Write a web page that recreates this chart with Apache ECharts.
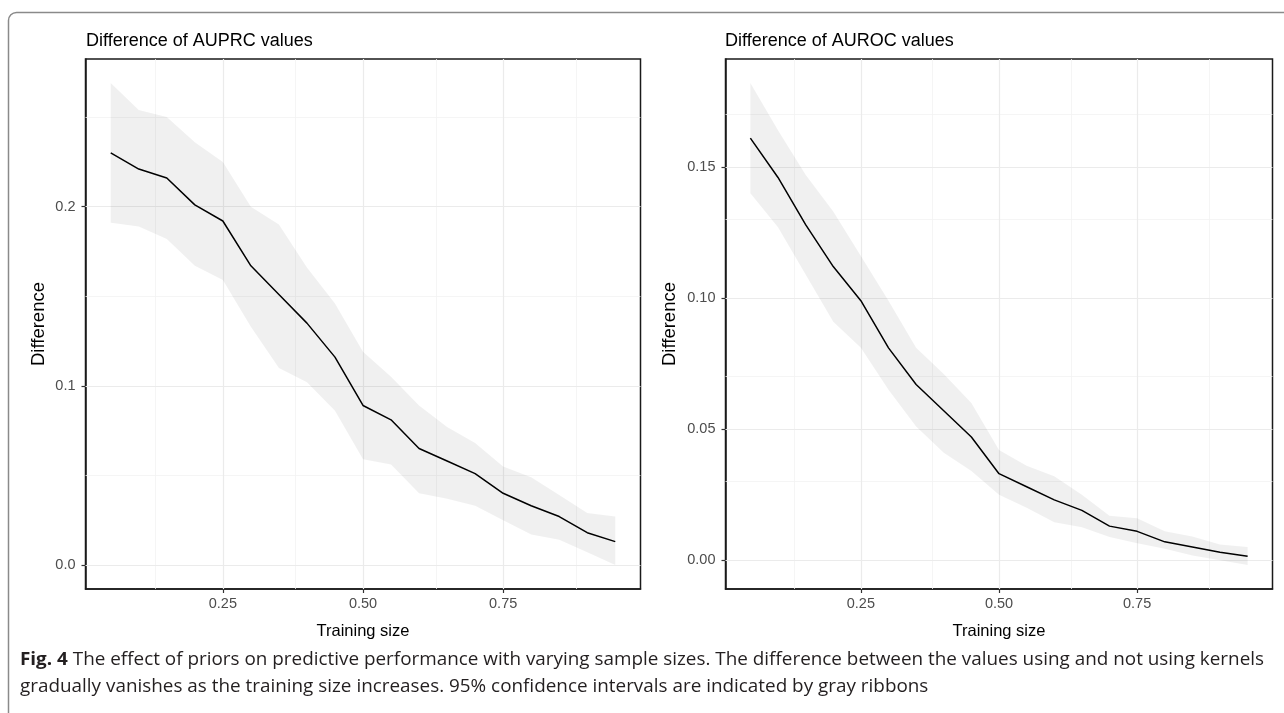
<!DOCTYPE html>
<html>
<head>
<meta charset="utf-8">
<script src="https://cdn.jsdelivr.net/npm/echarts@6/dist/echarts.min.js"></script>
<style>
  html, body { margin: 0; padding: 0; background: #fff; }
  #chart { width: 1284px; height: 713px; }
</style>
</head>
<body>
<div id="chart"></div>
<script>
// training size on x, same for both panels
const trainSize = [0.05, 0.10, 0.15, 0.20, 0.25, 0.30, 0.35, 0.40, 0.45, 0.50,
                   0.55, 0.60, 0.65, 0.70, 0.75, 0.80, 0.85, 0.90, 0.95];

// left panel: AUPRC difference + 95% CI
const auprcDiff  = [0.230, 0.221, 0.216, 0.201, 0.192, 0.167, 0.151, 0.135, 0.116, 0.089,
                    0.081, 0.065, 0.058, 0.051, 0.040, 0.033, 0.027, 0.018, 0.013];
const auprcUpper = [0.269, 0.254, 0.250, 0.236, 0.225, 0.200, 0.190, 0.166, 0.146, 0.119,
                    0.105, 0.089, 0.077, 0.068, 0.055, 0.049, 0.039, 0.029, 0.027];
const auprcLower = [0.191, 0.189, 0.182, 0.167, 0.159, 0.133, 0.110, 0.102, 0.086, 0.059,
                    0.056, 0.040, 0.037, 0.033, 0.025, 0.017, 0.014, 0.007, 0.000];

// right panel: AUROC difference + 95% CI
const aurocDiff  = [0.161, 0.146, 0.128, 0.112, 0.099, 0.081, 0.067, 0.057, 0.047, 0.033,
                    0.028, 0.023, 0.019, 0.013, 0.011, 0.007, 0.005, 0.003, 0.0015];
const aurocUpper = [0.182, 0.164, 0.147, 0.133, 0.116, 0.099, 0.081, 0.071, 0.060, 0.042,
                    0.036, 0.032, 0.025, 0.017, 0.016, 0.011, 0.009, 0.006, 0.005];
const aurocLower = [0.140, 0.127, 0.109, 0.091, 0.081, 0.065, 0.051, 0.041, 0.034, 0.025,
                    0.020, 0.0145, 0.0126, 0.0088, 0.0065, 0.0044, 0.0018, 0.0000, -0.0018];

// ticks and grid lines
const xTicks = [0.25, 0.50, 0.75];
const xMinor = [0.125, 0.375, 0.625, 0.875];
const auprcTicks = [0.0, 0.1, 0.2];
const auprcMinor = [0.05, 0.15, 0.25];
const aurocTicks = [0.00, 0.05, 0.10, 0.15];
const aurocMinor = [0.025, 0.075, 0.125, 0.175];

const titles = ["Difference of AUPRC values", "Difference of AUROC values"];
const xName = "Training size";
const yName = "Difference";
const captionBold = "Fig. 4";
const captionLines = [
  " The effect of priors on predictive performance with varying sample sizes. The difference between the values using and not using kernels",
  "gradually vanishes as the training size increases. 95% confidence intervals are indicated by gray ribbons"
];

const FONT = "'Liberation Sans', Arial, Helvetica, sans-serif";
const CAPFONT = "'Open Sans', 'Noto Sans', sans-serif";
const CAP_SIZE = 18;
const CAP_LEFT = 20, CAP_RIGHT = 1264;

// ggplot style 5% expansion
function expand(lo, hi) {
  const d = (hi - lo) * 0.05;
  return [lo - d, hi + d];
}
const xExt = expand(Math.min(...trainSize), Math.max(...trainSize));
const yExtL = expand(Math.min(...auprcLower), Math.max(...auprcUpper));
const yExtR = expand(Math.min(...aurocLower), Math.max(...aurocUpper));

function gridLines(xMaj, xMin, yMaj, yMin) {
  const major = { color: "#ebebeb", width: 1.2, type: "solid" };
  const minor = { color: "#f2f2f2", width: 0.8, type: "solid" };
  const out = [];
  xMin.forEach(v => out.push({ xAxis: v, lineStyle: minor }));
  yMin.forEach(v => out.push({ yAxis: v, lineStyle: minor }));
  xMaj.forEach(v => out.push({ xAxis: v, lineStyle: major }));
  yMaj.forEach(v => out.push({ yAxis: v, lineStyle: major }));
  return out;
}

function ribbon(lower, upper) {
  return trainSize.map((x, i) => [x, lower[i], upper[i]]);
}

// one polygon for the whole CI band, built from every row
function renderRibbon(params, api) {
  if (params.dataIndexInside !== 0) return { type: "group", children: [] };
  const n = params.dataInsideLength;
  const up = [], lo = [];
  for (let i = 0; i < n; i++) {
    up.push(api.coord([api.value(0, i), api.value(2, i)]));
    lo.push(api.coord([api.value(0, i), api.value(1, i)]));
  }
  return {
    type: "polygon",
    shape: { points: up.concat(lo.reverse()) },
    style: { fill: "rgba(0,0,0,0.058)", stroke: null }
  };
}

function xAxisOpt(idx) {
  return {
    type: "value", gridIndex: idx,
    min: xExt[0], max: xExt[1],
    name: xName, nameLocation: "middle", nameGap: 34,
    nameTextStyle: { fontFamily: FONT, fontSize: 16.5, color: "#000" },
    axisLine: { show: true, onZero: false, lineStyle: { color: "#1a1a1a", width: 1.5 } },
    axisTick: { show: true, length: 4, customValues: xTicks, lineStyle: { color: "#333", width: 1.2 } },
    axisLabel: { customValues: xTicks, margin: 7, fontFamily: FONT, fontSize: 14.5, color: "#4d4d4d",
                 formatter: v => v.toFixed(2) },
    splitLine: { show: false }
  };
}

function yAxisOpt(idx, ext, ticks, dec, gap) {
  return {
    type: "value", gridIndex: idx,
    min: ext[0], max: ext[1],
    name: yName, nameLocation: "middle", nameRotate: 90, nameGap: gap,
    nameTextStyle: { fontFamily: FONT, fontSize: 18.5, color: "#000" },
    axisLine: { show: true, onZero: false, lineStyle: { color: "#1a1a1a", width: 1.5 } },
    axisTick: { show: true, length: 4, customValues: ticks, lineStyle: { color: "#333", width: 1.2 } },
    axisLabel: { customValues: ticks, margin: 10, fontFamily: FONT, fontSize: 14.5, color: "#4d4d4d",
                 formatter: v => v.toFixed(dec) },
    splitLine: { show: false }
  };
}

function panelSeries(idx, diff, lower, upper, yMaj, yMin) {
  return [
    {
      type: "line", xAxisIndex: idx, yAxisIndex: idx, data: [], z: 1, silent: true,
      markLine: {
        silent: true, symbol: ["none", "none"], label: { show: false }, animation: false,
        z: 1, data: gridLines(xTicks, xMinor, yMaj, yMin)
      }
    },
    {
      type: "custom", xAxisIndex: idx, yAxisIndex: idx, z: 2, silent: true,
      data: ribbon(lower, upper), encode: { x: 0, y: [1, 2] },
      renderItem: renderRibbon
    },
    {
      type: "line", xAxisIndex: idx, yAxisIndex: idx, z: 3, silent: true,
      data: trainSize.map((x, i) => [x, diff[i]]),
      symbol: "none", lineStyle: { color: "#000", width: 1.5 }
    }
  ];
}

// caption: stretch slightly so the first line spans the figure width
const measureCtx = document.createElement("canvas").getContext("2d");
function textWidth(t, bold) {
  measureCtx.font = (bold ? "bold " : "") + CAP_SIZE + "px " + CAPFONT;
  return measureCtx.measureText(t).width;
}
const capScale = (CAP_RIGHT - CAP_LEFT) / (textWidth(captionBold, true) + textWidth(captionLines[0], false));

const captionText = [
  {
    type: "text", x: CAP_LEFT, y: 651, scaleX: capScale, silent: true,
    style: {
      text: "{b|" + captionBold + "}" + captionLines[0],
      font: CAP_SIZE + "px " + CAPFONT, fill: "#231f20", align: "left", verticalAlign: "top",
      rich: { b: { fontFamily: CAPFONT, fontSize: CAP_SIZE, fontWeight: "bold", fill: "#231f20" } }
    }
  },
  {
    type: "text", x: CAP_LEFT, y: 678, scaleX: capScale, silent: true,
    style: { text: captionLines[1], font: CAP_SIZE + "px " + CAPFONT,
             fill: "#231f20", align: "left", verticalAlign: "top" }
  }
];

const chart = echarts.init(document.getElementById("chart"), null, { renderer: "canvas" });

const titleStyle = { fontFamily: FONT, fontSize: 18, fontWeight: "normal", color: "#000" };

chart.setOption({
  backgroundColor: "#fff",
  animation: false,
  title: [
    { text: titles[0], left: 86, top: 32, padding: 0, textStyle: titleStyle },
    { text: titles[1], left: 725, top: 32, padding: 0, textStyle: titleStyle }
  ],
  grid: [
    { left: 85.5, top: 59, width: 555, height: 530, show: true, backgroundColor: "#fff", borderColor: "#1a1a1a", borderWidth: 1.5 },
    { left: 725.5, top: 59, width: 547, height: 530, show: true, backgroundColor: "#fff", borderColor: "#1a1a1a", borderWidth: 1.5 }
  ],
  xAxis: [xAxisOpt(0), xAxisOpt(1)],
  yAxis: [yAxisOpt(0, yExtL, auprcTicks, 1, 37), yAxisOpt(1, yExtR, aurocTicks, 2, 46)],
  series: [].concat(
    panelSeries(0, auprcDiff, auprcLower, auprcUpper, auprcTicks, auprcMinor),
    panelSeries(1, aurocDiff, aurocLower, aurocUpper, aurocTicks, aurocMinor)
  ),
  graphic: [
    {
      type: "rect", silent: true, z: -1,
      shape: { x: 8.5, y: 12.5, width: 1400, height: 800, r: 8 },
      style: { fill: null, stroke: "#8a8a8a", lineWidth: 1.5 }
    }
  ].concat(captionText)
});
</script>
</body>
</html>
